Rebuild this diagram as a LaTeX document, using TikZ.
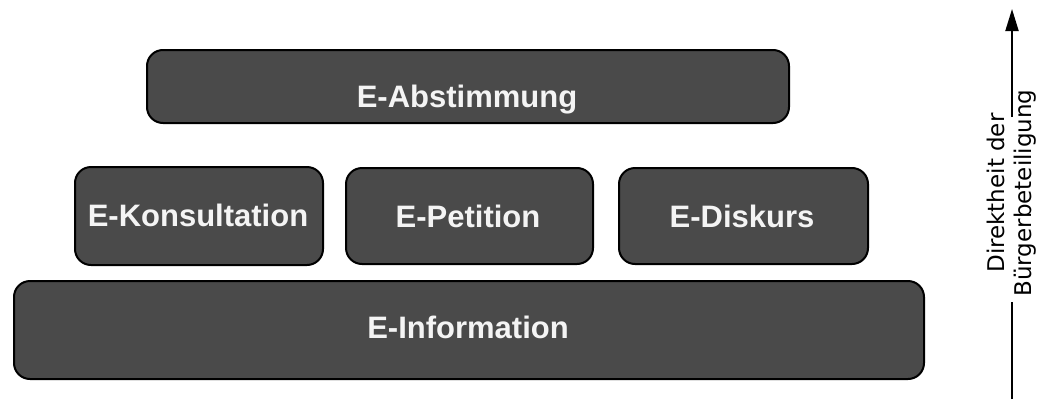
\documentclass[tikz,border=0pt]{standalone}
\usepackage{fontspec}
\setmainfont{Liberation Sans}
\newfontfamily\axisfont{DejaVu Sans}
\usetikzlibrary{arrows.meta}
\definecolor{boxgray}{HTML}{4A4A4A}
\definecolor{txtgray}{HTML}{F4F4F4}
\begin{document}
\begin{tikzpicture}[x=1pt,y=-1pt,
  box/.style={draw=black, line width=2pt, fill=boxgray, rounded corners=16pt,
    inner sep=0pt, anchor=north west},
  lbl/.style={text=txtgray, font=\fontsize{31}{36}\selectfont\bfseries,
    inner sep=0pt, anchor=base},
  axislabel/.style={font=\axisfont\fontsize{23}{27}\selectfont, rotate=90,
    align=center, inner sep=0pt},
  axisline/.style={line width=2pt}]
\useasboundingbox (0,0) rectangle (1040,399);
\node[box, minimum width=642pt, minimum height=73pt] (abst) at (146,49) {};
\node[box, minimum width=248pt, minimum height=98pt] (kons) at (74,166) {};
\node[box, minimum width=247pt, minimum height=96pt] (peti) at (345,167) {};
\node[box, minimum width=249pt, minimum height=96pt] (disk) at (618,167) {};
\node[box, minimum width=910pt, minimum height=98pt] (info) at (13,280) {};
\node[lbl] (tabst) at (467,107) {E-Abstimmung};
\node[lbl] (tkons) at (198,226) {E-Konsultation};
\node[lbl] (tpeti) at (468,227) {E-Petition};
\node[lbl] (tdisk) at (742,227) {E-Diskurs};
\node[lbl] (tinfo) at (468,338) {E-Information};
\node[axislabel] (axl) at (1012,193) {Direktheit der\\Bürgerbeteiligung};
\coordinate (a1) at (1012,399);
\coordinate (a2) at (1012,302);
\coordinate (a3) at (1012,117);
\coordinate (a4) at (1012,9);
\draw[axisline] (a1) -- (a2);
\draw[axisline, -{Triangle[length=22pt,width=13pt]}] (a3) -- (a4);
\end{tikzpicture}
\end{document}
